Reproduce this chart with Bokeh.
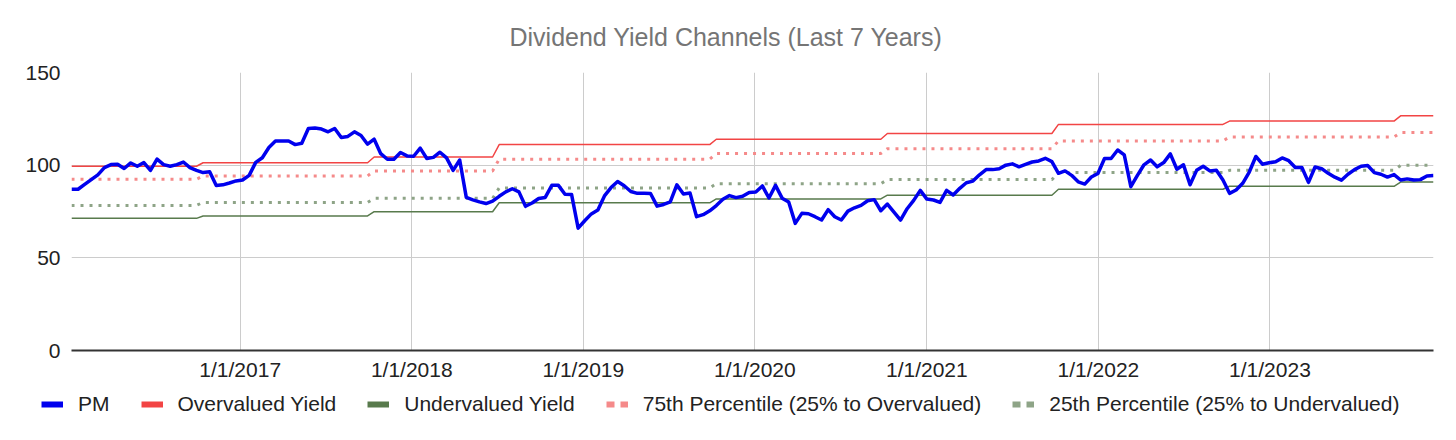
import numpy as np
import pandas as pd
from bokeh.plotting import figure
from bokeh.layouts import column
from bokeh.models import Legend, LegendItem, FixedTicker, Range1d
from bokeh.embed import file_html
from bokeh.resources import INLINE

# ---------------- data ----------------
start_date = "2016-01-08"      # first bi-weekly observation
period_days = 14

pm = [87.0, 87.0, 89.6, 92.2, 94.8, 98.7, 100.3, 100.5, 98.2, 101.2,
      99.4, 101.4, 97.2, 103.3, 100.3, 99.4, 100.3, 101.7, 98.7, 97.2,
      96.0, 96.4, 89.0, 89.4, 90.4, 91.5, 92.0, 94.5, 101.5, 104.0,
      109.5, 113.0, 113.0, 113.0, 111.1, 111.8, 119.8, 120.0, 119.5, 118.0,
      119.8, 114.9, 115.5, 118.0, 116.0, 111.3, 114.0, 106.2, 103.2, 103.2,
      106.8, 105.0, 104.8, 109.2, 103.6, 104.2, 107.0, 103.9, 97.2, 102.8,
      82.6, 81.3, 80.2, 79.3, 80.6, 83.2, 85.6, 87.3, 85.6, 77.8,
      79.6, 82.0, 82.6, 89.1, 89.1, 84.3, 84.2, 66.0, 70.0, 73.7,
      75.8, 83.4, 87.9, 91.2, 88.9, 85.8, 84.8, 84.8, 84.7, 77.9,
      78.8, 80.2, 89.4, 84.4, 85.0, 72.2, 73.3, 75.4, 78.2, 81.6,
      83.6, 82.5, 83.2, 85.3, 85.5, 88.8, 82.3, 89.1, 82.2, 80.1,
      68.6, 74.0, 73.8, 72.2, 70.4, 76.0, 72.2, 70.4, 75.2, 77.0,
      78.3, 80.8, 81.4, 75.4, 79.0, 74.7, 70.4, 76.5, 81.0, 86.4,
      81.7, 81.2, 79.9, 86.4, 83.9, 87.5, 90.5, 91.4, 94.8, 97.6,
      97.6, 98.1, 100.0, 100.7, 99.1, 100.4, 101.7, 102.3, 103.7, 101.9,
      95.6, 96.9, 94.5, 91.0, 89.8, 93.6, 95.5, 103.6, 103.6, 108.2,
      105.6, 88.4, 94.5, 100.2, 102.8, 99.1, 101.4, 106.1, 97.8, 100.2,
      89.4, 97.2, 99.4, 96.9, 97.2, 92.0, 84.8, 86.6, 90.2, 96.3,
      104.7, 100.5, 101.3, 101.8, 103.9, 102.4, 98.7, 98.7, 90.7, 99.0,
      98.1, 95.6, 93.5, 91.9, 95.1, 97.6, 99.4, 99.8, 96.0, 95.1,
      93.6, 94.9, 92.0, 92.6, 92.0, 92.2, 94.2, 94.4]

# dates at which the yield channels move to their next level
change_dates = ["2016-10-14", "2017-10-13", "2018-07-06", "2019-10-11",
                "2020-10-09", "2021-10-08", "2022-10-07", "2023-10-06"]
overvalued = [99.4, 101.3, 104.4, 111.1, 114.0, 117.1, 122.0, 123.8, 126.6]
pct75 = [92.4, 94.2, 96.9, 103.2, 106.3, 108.9, 113.1, 115.2, 117.6]
pct25 = [78.3, 79.9, 82.1, 87.7, 90.0, 92.2, 96.0, 97.2, 99.9]
undervalued = [71.3, 72.6, 74.9, 79.7, 81.8, 83.8, 87.0, 88.6, 90.9]

tick_dates = ["2017-01-01", "2018-01-01", "2019-01-01", "2020-01-01",
              "2021-01-01", "2022-01-01", "2023-01-01"]
tick_labels = ["1/1/2017", "1/1/2018", "1/1/2019", "1/1/2020",
               "1/1/2021", "1/1/2022", "1/1/2023"]
y_ticks = [0, 50, 100, 150]

title_text = "Dividend Yield Channels (Last 7 Years)"
names = ["PM", "Overvalued Yield", "Undervalued Yield",
         "75th Percentile (25% to Overvalued)",
         "25th Percentile (25% to Undervalued)"]

# ---------------- build ----------------
dates = pd.date_range(start_date, periods=len(pm), freq=f"{period_days}D")
seg = np.searchsorted(pd.to_datetime(change_dates).values, dates.values, side="right")
over_s = np.array(overvalued)[seg]
p75_s = np.array(pct75)[seg]
p25_s = np.array(pct25)[seg]
under_s = np.array(undervalued)[seg]

FONT = "Liberation Sans"
BLUE = "#0000ee"
RED = "#f24444"
GREEN = "#587a4c"
RED_L = "#f58a8a"
GREEN_L = "#8ea487"

p = figure(width=1440, height=390, x_axis_type="datetime",
           output_backend="svg", toolbar_location=None,
           min_border_left=71, min_border_right=7,
           min_border_top=72, min_border_bottom=40)
p.frame_align = False
p.x_range = Range1d(dates[0], dates[-1])
p.y_range = Range1d(0, 150)
p.outline_line_color = None
p.background_fill_color = "white"

p.title.text = title_text
p.title.align = "left"
p.title.offset = 438
p.title.vertical_align = "top"
p.title.text_color = "#757575"
p.title.text_font = FONT
p.title.text_font_style = "normal"
p.title.text_font_size = "25px"
p.title.standoff = 40

tick_ms = [pd.Timestamp(t).value // 10**6 for t in tick_dates]
p.xaxis.ticker = FixedTicker(ticks=tick_ms)
p.xaxis.major_label_overrides = {t: l for t, l in zip(tick_ms, tick_labels)}
p.yaxis.ticker = FixedTicker(ticks=y_ticks)
for ax in (p.xaxis, p.yaxis):
    ax.major_tick_line_color = None
    ax.minor_tick_line_color = None
    ax.major_label_text_font = FONT
    ax.major_label_text_font_size = "21px"
    ax.major_label_text_color = "#222222"
p.yaxis.axis_line_color = None
p.yaxis.major_label_standoff = 5
p.xaxis.axis_line_color = "#333333"
p.xaxis.axis_line_width = 2
p.xaxis.major_label_standoff = 1

p.xgrid.grid_line_color = "#cccccc"
p.ygrid.grid_line_color = "#cccccc"
p.xgrid.grid_line_width = 1
p.ygrid.grid_line_width = 1

p.line(dates, over_s, line_color=RED, line_width=1.5)
p.line(dates, under_s, line_color=GREEN, line_width=1.5)
p.line(dates, p75_s, line_color=RED_L, line_width=3, line_dash="3 6")
p.line(dates, p25_s, line_color=GREEN_L, line_width=3, line_dash="3 6")
p.line(dates, pm, line_color=BLUE, line_width=3.5, line_join="round")

# ---------------- legend strip ----------------
q = figure(width=1440, height=34, output_backend="svg", toolbar_location=None,
           x_axis_location=None, y_axis_location=None,
           min_border_left=0, min_border_right=0,
           min_border_top=0, min_border_bottom=0,
           x_range=Range1d(0, 1), y_range=Range1d(0, 1))
q.frame_align = False
q.outline_line_color = None
q.grid.visible = False

nan2 = [np.nan, np.nan]
sw_pm = q.line(nan2, nan2, line_color=BLUE, line_width=6)
sw_over = q.line(nan2, nan2, line_color=RED, line_width=6)
sw_under = q.line(nan2, nan2, line_color=GREEN, line_width=6)
sw_p75 = q.line(nan2, nan2, line_color=RED_L, line_width=6, line_dash="8 6")
sw_p25 = q.line(nan2, nan2, line_color=GREEN_L, line_width=6, line_dash="8 6")

legend = Legend(items=[LegendItem(label=n, renderers=[r]) for n, r in
                       zip(names, [sw_pm, sw_over, sw_under, sw_p75, sw_p25])],
                orientation="horizontal", location=(41, 8),
                label_text_font=FONT, label_text_font_size="21px",
                label_text_color="#222222",
                glyph_width=22, glyph_height=20, label_standoff=15,
                spacing=31, padding=0, margin=0,
                border_line_color=None, background_fill_alpha=0)
q.add_layout(legend)

layout = column(p, q, spacing=0)
open("out.html", "w").write(file_html(layout, INLINE))
